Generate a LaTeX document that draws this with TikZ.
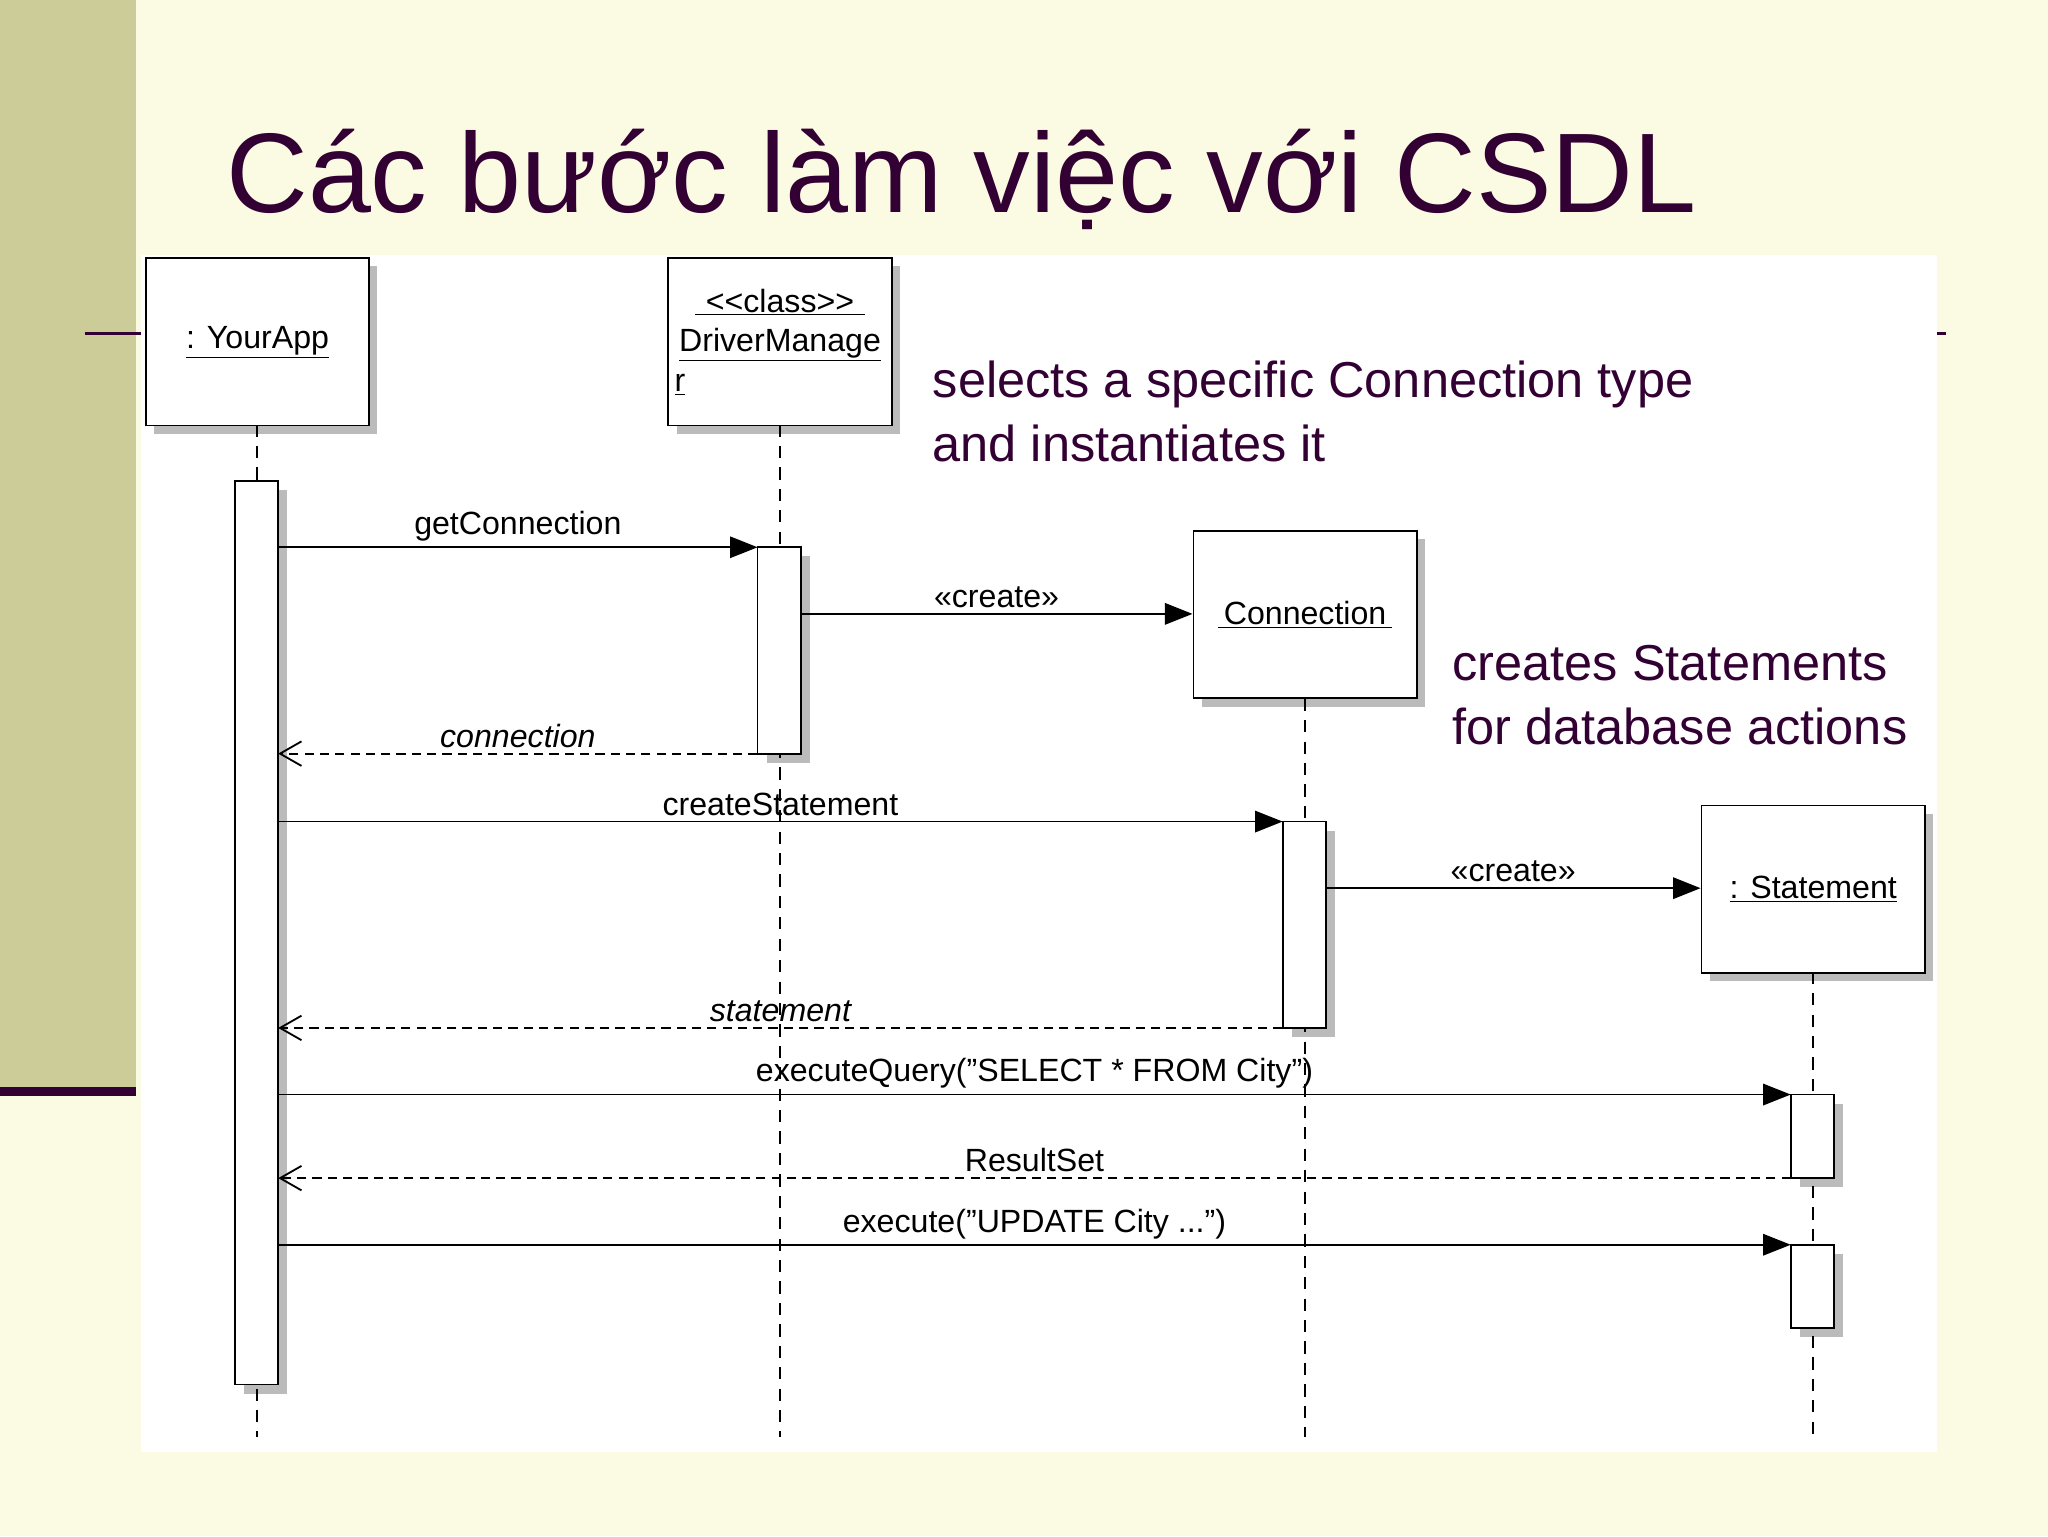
\documentclass[tikz,border=0pt]{standalone}
\usepackage{fontspec}
\setmainfont{Liberation Sans}
\usetikzlibrary{arrows.meta}
\definecolor{bg}{HTML}{FBFBE3}
\definecolor{bar}{HTML}{CCCC99}
\definecolor{pur}{HTML}{330033}
\definecolor{shd}{HTML}{BBBBBB}
\begin{document}
\begin{tikzpicture}[x=0.03cm,y=-0.03cm,
  obj/.style={draw,fill=white,line width=1.2pt,minimum width=5.13cm,minimum height=3.84cm,anchor=north west,font=\fontsize{21}{24}\selectfont,inner sep=0pt},
  act/.style={draw,fill=white,line width=1.2pt},
  life/.style={dashed,line width=1.2pt,dash pattern=on 8pt off 6pt},
  msg/.style={line width=1.2pt,-{Triangle[length=18pt,width=14pt]}},
  ret/.style={line width=1.2pt,dash pattern=on 6pt off 4pt,-{Straight Barb[length=14pt,width=16pt]}},
  lab/.style={font=\fontsize{21}{24}\selectfont},
  note/.style={font=\fontsize{33}{42}\selectfont,text=pur,align=left,anchor=north west}]
\useasboundingbox (0,0) rectangle (1568,1176);
\fill[bg] (0,0) rectangle (1568,1176);
\fill[bar] (0,0) rectangle (104,832);
\fill[pur] (0,832) rectangle (104,839);
\draw[pur,line width=2pt] (65,255) -- (110,255);
\draw[pur,line width=2pt] (1480,255) -- (1490,255);
\node[anchor=base west,font=\fontsize{74}{80}\selectfont,text=pur,inner sep=0pt] (title) at (173,163) {Các bước làm việc với CSDL};
\fill[white] (108,195) rectangle (1483,1112);
% shadows
\foreach \x/\y in {111/197,511/197,913/406,1302/616}
  \fill[shd] (\x+7,\y+7) rectangle (\x+178,\y+135);
\foreach \x/\a/\b in {180/368/1060,580/419/577,982/629/787,1371/838/902,1371/953/1017}
  \fill[shd] (\x+7,\a+7) rectangle (\x+40,\b+7);
% lifelines
\draw[life] (197,325) -- (197,1100);
\draw[life] (597,325) -- (597,1100);
\draw[life] (999,535) -- (999,1100);
\draw[life] (1388,744) -- (1388,1100);
% objects
\node[obj] (app) at (111,197) {\underline{: YourApp}};
\node[obj,align=center] (dm) at (511,197) {\underline{\,\,<{}<class>{}>\,\,}\\[2pt]\underline{DriverManage}\\[2pt]\hspace*{-4.6cm}\underline{r}};
\node[obj] (con) at (913,406) {\underline{\,Connection\,}};
\node[obj] (st) at (1302,616) {\underline{: Statement}};
% activations
\draw[act] (180,368) rectangle (213,1060);
\draw[act] (580,419) rectangle (613,577);
\draw[act] (982,629) rectangle (1015,787);
\draw[act] (1371,838) rectangle (1404,902);
\draw[act] (1371,953) rectangle (1404,1017);
\coordinate (a1) at (213,419); \coordinate (d1) at (580,419);
\coordinate (d2) at (613,470); \coordinate (c2) at (913,470);
\coordinate (d3) at (580,577); \coordinate (a3) at (213,577);
\coordinate (a4) at (213,629); \coordinate (c4) at (982,629);
\coordinate (c5) at (1015,680); \coordinate (s5) at (1302,680);
\coordinate (c6) at (982,787); \coordinate (a6) at (213,787);
\coordinate (a7) at (213,838); \coordinate (s7) at (1371,838);
\coordinate (s8) at (1371,902); \coordinate (a8) at (213,902);
\coordinate (a9) at (213,953); \coordinate (s9) at (1371,953);
\draw[msg] (a1) -- node[lab,above] {getConnection} (d1);
\draw[msg] (d2) -- node[lab,above] {«create»} (c2);
\draw[ret] (d3) -- node[lab,above] {\itshape connection} (a3);
\draw[msg] (a4) -- node[lab,above,pos=0.5] {createStatement} (c4);
\draw[msg] (c5) -- node[lab,above] {«create»} (s5);
\draw[ret] (c6) -- node[lab,above] {\itshape statement} (a6);
\draw[msg] (a7) -- node[lab,above] {executeQuery("SELECT * FROM City")} (s7);
\draw[ret] (s8) -- node[lab,above] {ResultSet} (a8);
\draw[msg] (a9) -- node[lab,above] {execute("UPDATE City ...")} (s9);
\node[note] (n1) at (710,272) {selects a specific Connection type\\and instantiates it};
\node[note] (n2) at (1108,490) {creates Statements\\for database actions};
\end{tikzpicture}
\end{document}
